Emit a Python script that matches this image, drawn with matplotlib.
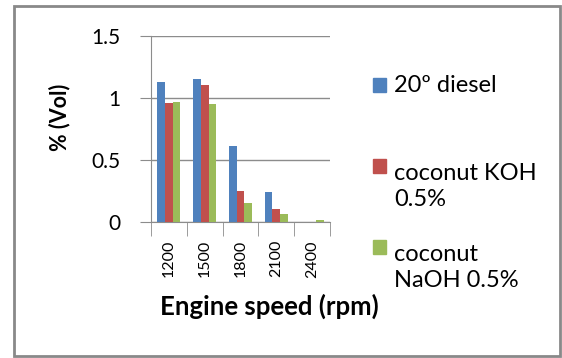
import matplotlib
matplotlib.use('Agg')
import matplotlib.pyplot as plt
from matplotlib.patches import Rectangle
import numpy as np

plt.rcParams['font.family'] = ['Lato', 'DejaVu Sans']

# data
speeds = ['1200', '1500', '1800', '2100', '2400']
diesel = [1.13, 1.15, 0.61, 0.24, 0.0]
koh = [0.96, 1.10, 0.25, 0.105, 0.0]
naoh = [0.97, 0.95, 0.155, 0.065, 0.013]
series_names = ['20º diesel', 'coconut KOH\n0.5%', 'coconut\nNaOH 0.5%']
colors = ['#4F81BD', '#C0504D', '#9BBB59']

W, H = 562, 358
fig = plt.figure(figsize=(W / 100, H / 100), dpi=100)
ax = fig.add_axes([151 / W, 1 - 222 / H, 179 / W, (222 - 35.7) / H])

x = np.arange(len(speeds))
bw = 0.215
for i, vals in enumerate([diesel, koh, naoh]):
    ax.bar(x + (i - 1) * bw, vals, width=bw, color=colors[i], zorder=3)

grid_c = '#8C8C8C'
ax.set_xlim(-0.5, len(speeds) - 0.5)
ax.set_ylim(0, 1.5)
ax.set_yticks([0, 0.5, 1, 1.5])
ax.set_yticklabels(['0', '0.5', '1', '1.5'])
ax.yaxis.grid(True, color=grid_c, linewidth=1, zorder=0)
ax.tick_params(axis='y', length=8, color=grid_c, labelsize=15, pad=14)

# category labels at centres, tick marks on the boundaries
ax.set_xticks(x)
ax.set_xticklabels(speeds, rotation=90)
ax.tick_params(axis='x', which='major', length=0, labelsize=11.5, pad=13)
ax.set_xticks(np.arange(len(speeds) + 1) - 0.5, minor=True)
ax.tick_params(axis='x', which='minor', length=10, color=grid_c)

for s in ['top', 'right']:
    ax.spines[s].set_visible(False)
for s in ['left', 'bottom']:
    ax.spines[s].set_color(grid_c)

ax.set_xlabel('Engine speed (rpm)', fontsize=18.5, fontweight='bold')
ax.xaxis.set_label_coords(0.659, -0.385)
ax.set_ylabel('% (Vol)', fontsize=15.5, fontweight='bold')
ax.yaxis.set_label_coords(-0.45, 0.56)

# legend drawn by hand; y is the baseline of the last line of each label
squares = [92, 173, 254]
last_lines = [92, 206, 287]
for name, c, sq, b in zip(series_names, colors, squares, last_lines):
    fig.patches.append(Rectangle((373 / W, 1 - sq / H), 13 / W, 14 / H,
                                 transform=fig.transFigure, color=c))
    fig.text(394 / W, 1 - b / H, name, fontsize=17, va='baseline',
             linespacing=1.3)

# outer chart frame
fig.patches.append(Rectangle((14 / W, 1 - 356 / H), 546 / W, 350 / H,
                             transform=fig.transFigure, fill=False,
                             edgecolor='#898989', linewidth=2))

plt.savefig('out.png', dpi=100)
plt.close()
